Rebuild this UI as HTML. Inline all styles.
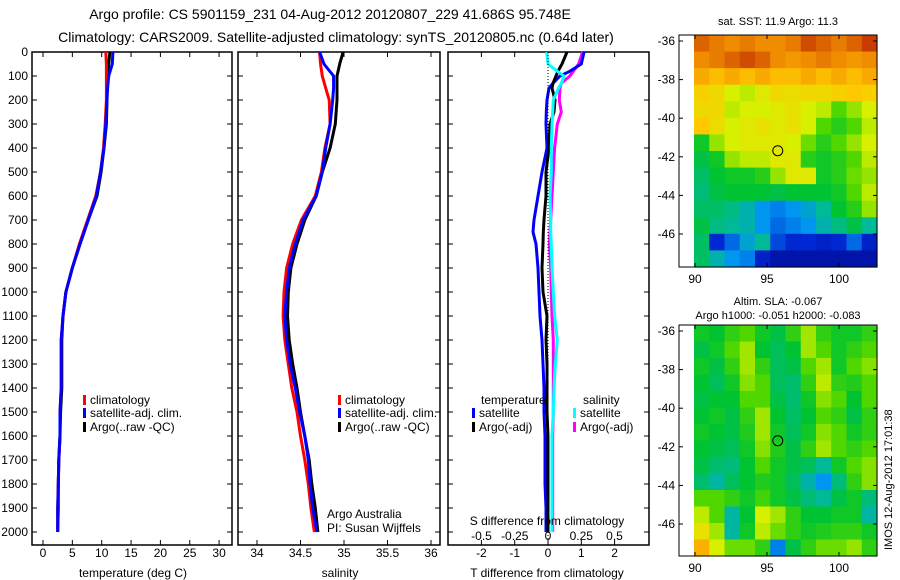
<!DOCTYPE html>
<html><head><meta charset="utf-8"><style>
html,body{margin:0;padding:0;background:#fff;}
svg{display:block;font-family:"Liberation Sans",sans-serif;}
text{fill:#000;}
</style></head><body>
<svg id="chart" width="900" height="580" viewBox="0 0 900 580">
<g id="titles">
<text x="330" y="19" font-size="14" text-anchor="middle">Argo profile: CS 5901159_231 04-Aug-2012 20120807_229 41.686S 95.748E</text>
<text x="336" y="42" font-size="14" text-anchor="middle">Climatology: CARS2009. Satellite-adjusted climatology: synTS_20120805.nc (0.64d later)</text>
</g>
</svg>
<script>
// ---- data ----
const depths = [0,50,100,150,200,300,400,500,600,700,800,900,1000,1100,1200,1300,1400,1500,1600,1700,1800,1900,2000];
const tempClim = [10.7,10.8,10.8,10.8,10.8,10.6,10.3,9.8,9.0,7.6,6.2,5.0,3.9,3.4,3.1,3.1,3.1,2.9,2.9,2.7,2.6,2.5,2.5];
const tempSat  = [11.9,11.8,11.2,11.0,10.9,10.7,10.4,9.8,9.1,7.7,6.3,5.0,3.9,3.4,3.1,3.1,3.1,2.9,2.9,2.7,2.6,2.5,2.5];
const tempArgo = [11.4,11.2,11.0,10.9,10.9,10.8,10.4,9.9,9.2,7.7,6.3,5.0,3.9,3.4,3.2,3.2,3.2,3.0,2.9,2.7,2.6,2.6,2.5];
const salClim = [34.72,34.73,34.75,34.79,34.83,34.84,34.78,34.74,34.67,34.51,34.41,34.34,34.31,34.30,34.32,34.36,34.40,34.46,34.50,34.55,34.59,34.62,34.66];
const salSat  = [34.72,34.77,34.88,34.88,34.87,34.84,34.79,34.75,34.68,34.53,34.44,34.37,34.34,34.32,34.34,34.38,34.44,34.49,34.55,34.59,34.61,34.64,34.69];
const salArgo = [34.99,34.95,34.92,34.92,34.92,34.90,34.84,34.75,34.68,34.55,34.46,34.39,34.36,34.35,34.37,34.41,34.46,34.50,34.55,34.60,34.63,34.67,34.70];
const diffDepths = [0,50,80,100,130,150,200,250,300,400,500,600,700,750,800,900,1000,1100,1200,1300,1400,1500,1600,1700,1800,1900,2000];
const tDiffSat  = [1.08,1.0,0.66,0.36,0.15,0.03,-0.03,-0.05,-0.06,-0.03,-0.18,-0.3,-0.42,-0.45,-0.36,-0.3,-0.27,-0.24,-0.18,-0.15,-0.12,-0.12,-0.09,-0.09,-0.09,-0.06,-0.06];
const tDiffArgo = [0.57,0.42,0.3,0.24,0.15,0.12,0.21,0.18,0.06,0.03,-0.06,-0.06,-0.12,-0.14,-0.15,-0.18,-0.15,-0.03,-0.06,-0.03,-0.03,-0.03,0,0,0,0,0];
const sDiffSat  = [-0.01,0,0.07,0.12,0.1,0.08,0.04,0.035,0.03,0.025,0.025,0.015,0.02,0.02,0.025,0.03,0.04,0.05,0.07,0.055,0.045,0.04,0.03,0.03,0.03,0.03,0.03];
const sDiffArgo = [0.26,0.23,0.19,0.165,0.1,0.09,0.085,0.1,0.07,0.05,0.04,0.03,0.02,0.015,0.01,0.02,0.025,0.03,0.04,0.04,0.04,0.04,0.035,0.035,0.035,0.035,0.035];
const depthTicks = [0,100,200,300,400,500,600,700,800,900,1000,1100,1200,1300,1400,1500,1600,1700,1800,1900,2000];
const tempTicks = [0,5,10,15,20,25,30];
const salTicks = [34,34.5,35,35.5,36];
const tDiffTicks = [-2,-1,0,1,2];
const sDiffTicks = [-0.5,-0.25,0,0.25,0.5];
const sDiffTickLabels = ["-0.5","-0.25","0","0.25","0.5"];
const lonTicks = [90,95,100];
const latTicks = [-36,-38,-40,-42,-44,-46];
const sstGrid = [
[0.85,0.82,0.8,0.82,0.8,0.8,0.82,0.88,0.85,0.82,0.85,0.9],
[0.8,0.82,0.85,0.88,0.85,0.8,0.78,0.8,0.82,0.8,0.78,0.8],
[0.75,0.72,0.75,0.72,0.75,0.72,0.72,0.75,0.72,0.75,0.72,0.75],
[0.68,0.66,0.6,0.58,0.62,0.66,0.65,0.66,0.66,0.68,0.7,0.68],
[0.66,0.66,0.58,0.6,0.6,0.62,0.64,0.6,0.58,0.5,0.55,0.6],
[0.7,0.65,0.6,0.62,0.64,0.62,0.64,0.6,0.5,0.45,0.5,0.58],
[0.42,0.55,0.6,0.62,0.62,0.62,0.6,0.52,0.45,0.5,0.55,0.6],
[0.38,0.42,0.55,0.58,0.58,0.62,0.62,0.45,0.42,0.45,0.5,0.58],
[0.35,0.4,0.42,0.42,0.45,0.55,0.62,0.62,0.42,0.45,0.52,0.55],
[0.33,0.38,0.4,0.4,0.4,0.38,0.4,0.4,0.4,0.42,0.5,0.58],
[0.35,0.35,0.32,0.28,0.22,0.2,0.22,0.25,0.3,0.4,0.45,0.55],
[0.38,0.32,0.3,0.28,0.22,0.18,0.2,0.22,0.28,0.32,0.38,0.3],
[0.35,0.12,0.18,0.25,0.3,0.15,0.12,0.12,0.1,0.12,0.18,0.1],
[0.35,0.28,0.22,0.2,0.1,0.06,0.06,0.06,0.06,0.06,0.06,0.06]];
const slaGrid = [
[0.42,0.4,0.46,0.5,0.42,0.38,0.46,0.56,0.46,0.42,0.42,0.46],
[0.38,0.42,0.5,0.56,0.4,0.36,0.4,0.56,0.5,0.42,0.46,0.5],
[0.42,0.38,0.46,0.56,0.46,0.36,0.38,0.5,0.56,0.42,0.5,0.54],
[0.4,0.36,0.42,0.54,0.5,0.36,0.34,0.46,0.58,0.46,0.44,0.5],
[0.38,0.4,0.4,0.5,0.5,0.38,0.34,0.42,0.54,0.5,0.4,0.5],
[0.4,0.42,0.38,0.46,0.56,0.4,0.35,0.4,0.5,0.46,0.38,0.46],
[0.42,0.4,0.38,0.44,0.56,0.42,0.36,0.42,0.54,0.5,0.42,0.46],
[0.4,0.38,0.36,0.42,0.54,0.44,0.38,0.46,0.56,0.5,0.46,0.5],
[0.38,0.34,0.33,0.4,0.5,0.42,0.38,0.36,0.3,0.42,0.5,0.54],
[0.34,0.29,0.36,0.4,0.44,0.42,0.36,0.28,0.22,0.33,0.46,0.54],
[0.5,0.5,0.46,0.42,0.48,0.42,0.38,0.33,0.3,0.38,0.42,0.33],
[0.58,0.5,0.29,0.4,0.6,0.56,0.46,0.4,0.4,0.42,0.42,0.29],
[0.64,0.56,0.29,0.42,0.58,0.52,0.46,0.42,0.44,0.46,0.46,0.42],
[0.74,0.6,0.52,0.52,0.46,0.2,0.38,0.46,0.52,0.52,0.55,0.46]];
const profileLon = [95.748];
const profileLat = [-41.686];

// ---- rendering ----
const NS = "http://www.w3.org/2000/svg";
const svg = document.getElementById('chart');
function mk(tag, attrs, parent){const e=document.createElementNS(NS,tag);for(const k in attrs)e.setAttribute(k,attrs[k]);(parent||svg).appendChild(e);return e;}
function txt(x,y,s,anchor,size,parent){const t=mk('text',{x:x,y:y,'font-size':size||12,'text-anchor':anchor||'start'},parent);t.textContent=s;return t;}

const top0=52, bot0=545;
const yD = d => top0 + d*0.24;
const panels = [
 {name:'temperature-panel', x0:32, x1:232, sx: v => 43 + v*5.87},
 {name:'salinity-panel', x0:238, x1:440, sx: v => 257 + (v-34)*87},
 {name:'difference-panel', x0:448, x1:649, sx: v => 548 + v*33.3}
];
const sDx = v => 548 + v*133;

panels.forEach((p,i)=>{
  const g = mk('g',{});
  
  
  const fr = mk('rect',{x:p.x0,y:top0,width:p.x1-p.x0,height:bot0-top0,fill:'none',stroke:'#000','stroke-width':1.5},g);
  
  
  depthTicks.forEach(d=>{
    mk('line',{x1:p.x0,x2:p.x0+5,y1:yD(d),y2:yD(d),stroke:'#000'},g);
    mk('line',{x1:p.x1,x2:p.x1-5,y1:yD(d),y2:yD(d),stroke:'#000'},g);
  });
  p.g = g;
});
const dl = mk('g',{});


depthTicks.forEach(d=>{ const t=txt(28,yD(d)+4,String(d),'end',12,dl);   });

function xTicks(p, ticks, labels, ly){
  const g = mk('g',{},p.g);
  
  
  ticks.forEach((v,i)=>{
    const x=p.sx(v);
    mk('line',{x1:x,x2:x,y1:bot0,y2:bot0-5,stroke:'#000'},g);
    mk('line',{x1:x,x2:x,y1:top0,y2:top0+5,stroke:'#000'},g);
    txt(x,ly,labels?labels[i]:String(v),'middle',12,g);
  });
}
xTicks(panels[0], tempTicks, null, 557);
xTicks(panels[1], salTicks, null, 557);
xTicks(panels[2], tDiffTicks, null, 557);
const sdt = mk('g',{},panels[2].g);


sDiffTicks.forEach((v,i)=>txt(sDx(v),540,sDiffTickLabels[i],'middle',12,sdt));

const xl1=txt(133,577,'temperature (deg C)','middle',12);  
const xl2=txt(340,577,'salinity','middle',12);  
const xl3=txt(547,577,'T difference from climatology','middle',12);  
const xl4=txt(547,525,'S difference from climatology','middle',12);  

const zl = mk('line',{x1:panels[2].sx(0),x2:panels[2].sx(0),y1:top0,y2:bot0,stroke:'#000','stroke-dasharray':'1,2','stroke-width':1});



function profile(parent, xs, ds, sx, color, name){
  const pts = xs.map((v,i)=> sx(v).toFixed(1)+','+yD(ds[i]).toFixed(1)).join(' ');
  const pl = mk('polyline',{points:pts,fill:'none',stroke:color,'stroke-width':3,'stroke-linejoin':'miter'},parent);
  
  
}
profile(panels[0].g, tempArgo, depths, panels[0].sx, '#000', 'temp-argo-line');
profile(panels[0].g, tempClim, depths, panels[0].sx, '#f00', 'temp-climatology-line');
profile(panels[0].g, tempSat, depths, panels[0].sx, '#00f', 'temp-satellite-line');
profile(panels[1].g, salClim, depths, panels[1].sx, '#f00', 'sal-climatology-line');
profile(panels[1].g, salArgo, depths, panels[1].sx, '#000', 'sal-argo-line');
profile(panels[1].g, salSat, depths, panels[1].sx, '#00f', 'sal-satellite-line');
profile(panels[2].g, sDiffArgo, diffDepths, sDx, '#f0f', 's-diff-argo-line');
profile(panels[2].g, tDiffSat, diffDepths, panels[2].sx, '#00f', 't-diff-satellite-line');
profile(panels[2].g, tDiffArgo, diffDepths, panels[2].sx, '#000', 't-diff-argo-line');
profile(panels[2].g, sDiffSat, diffDepths, sDx, '#0ff', 's-diff-satellite-line');

function legendEntry(parent,x,y,color,label){
  const g = mk('g',{},parent);
  
  
  mk('rect',{x:x,y:y-9,width:3,height:10,fill:color},g);
  txt(x+7,y,label,'start',12,g);
}
const lg1 = mk('g',{});  
legendEntry(lg1,83,404,'#f00','climatology');
legendEntry(lg1,83,417,'#00f','satellite-adj. clim.');
legendEntry(lg1,83,431,'#000','Argo(..raw -QC)');
const lg2 = mk('g',{});  
legendEntry(lg2,338,404,'#f00','climatology');
legendEntry(lg2,338,417,'#00f','satellite-adj. clim.');
legendEntry(lg2,338,431,'#000','Argo(..raw -QC)');
const lg3 = mk('g',{});  
txt(481,404,'temperature','start',12,lg3);
txt(583,404,'salinity','start',12,lg3);
legendEntry(lg3,472,417,'#00f','satellite');
legendEntry(lg3,472,431,'#000','Argo(-adj)');
legendEntry(lg3,573,417,'#0ff','satellite');
legendEntry(lg3,573,431,'#f0f','Argo(-adj)');
const cr = mk('g',{});  
txt(327,518,'Argo Australia','start',12,cr);
txt(327,532,'PI: Susan Wijffels','start',12,cr);

// ---- maps ----
const stops = [[0,[0,0,130]],[0.12,[0,40,210]],[0.22,[0,150,240]],[0.3,[0,185,150]],[0.4,[0,195,50]],[0.5,[80,215,0]],[0.6,[215,240,0]],[0.7,[255,200,0]],[0.8,[240,140,0]],[0.9,[200,60,0]],[1,[150,0,0]]];
function cmap(v){
  for(let i=1;i<stops.length;i++){ if(v<=stops[i][0]){const a=stops[i-1],b=stops[i];const t=(v-a[0])/(b[0]-a[0]);return 'rgb('+a[1].map((c,k)=>Math.round(c+(b[1][k]-c)*t)).join(',')+')';} }
  return 'rgb(150,0,0)';
}
function drawMap(name, grid, fy0, fy1, latRef, title1, title2){
  const g = mk('g',{});
  
  
  const fx0=679, fx1=877;
  const lonX = lon => 695 + (lon-90)*14.4;
  const latY = lat => latRef + (-36-lat)*19.3;
  const dx0=694, dx1=877;
  const rows=grid.length, cols=grid[0].length;
  const cw=(dx1-dx0)/cols, ch=(fy1-fy0)/rows;
  grid.forEach((row,r)=>row.forEach((v,c)=>{
    const cell = mk('rect',{x:(dx0+c*cw).toFixed(2),y:(fy0+r*ch).toFixed(2),width:(cw+0.6).toFixed(2),height:(ch+0.6).toFixed(2),fill:cmap(v)},g);
    
    
  }));
  mk('rect',{x:fx0,y:fy0,width:fx1-fx0,height:fy1-fy0,fill:'none',stroke:'#000','stroke-width':1},g);
  lonTicks.forEach(l=>{const x=lonX(l);mk('line',{x1:x,x2:x,y1:fy1,y2:fy1-4,stroke:'#000'},g);mk('line',{x1:x,x2:x,y1:fy0,y2:fy0+4,stroke:'#000'},g);txt(x,fy1+16,String(l),'middle',12,g);});
  latTicks.forEach(l=>{const y=latY(l);mk('line',{x1:fx0,x2:fx0+4,y1:y,y2:y,stroke:'#000'},g);mk('line',{x1:fx1,x2:fx1-4,y1:y,y2:y,stroke:'#000'},g);txt(fx0-4,y+4,String(l),'end',12,g);});
  const m = mk('circle',{cx:lonX(profileLon[0]),cy:latY(profileLat[0]),r:5,fill:'none',stroke:'#000','stroke-width':1},g);
  
  
  if(title1) txt(778,title2?fy0-20:fy0-10,title1,'middle',11,g);
  if(title2) txt(778,fy0-6,title2,'middle',11,g);
  return g;
}
drawMap('sst-map', sstGrid, 35, 267, 41, 'sat. SST: 11.9 Argo: 11.3');
drawMap('sla-map', slaGrid, 325, 556, 331, 'Altim. SLA: -0.067', 'Argo h1000: -0.051 h2000: -0.083');
const imos = mk('text',{x:0,y:0,'font-size':11,transform:'translate(892,550) rotate(-90)'});
imos.textContent = 'IMOS 12-Aug-2012 17:01:38';


</script>
</body></html>
